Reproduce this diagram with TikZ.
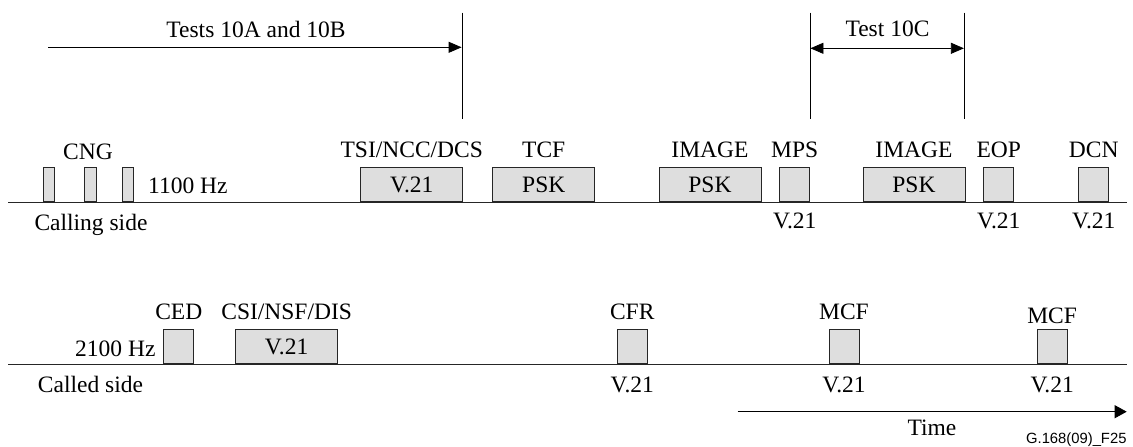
\documentclass[tikz,border=0pt]{standalone}
\usepackage{fontspec}
\setmainfont{Liberation Serif}
\newfontfamily\figsans{Liberation Sans}
\usetikzlibrary{arrows.meta}
\begin{document}
\begin{tikzpicture}[x=1pt,y=-1pt,
  every node/.style={inner sep=0pt, font=\fontsize{23.5}{27}\selectfont},
  sig/.style={draw=black!85, fill=black!13, line width=0.9pt, inner sep=0pt,
    anchor=south west, minimum height=34pt},
  wide/.style={sig, minimum width=102pt},
  narrow/.style={sig, minimum width=30pt},
  thin/.style={sig, minimum width=11.5pt},
  lbl/.style={anchor=base},
  axis/.style={line width=0.9pt, black!85},
  marker/.style={line width=0.8pt},
  tip/.style={-{Triangle[length=13pt,width=11pt]}, line width=0.8pt}
]
\useasboundingbox (0,0) rectangle (1133,447);

% ---------- Calling side ----------
\coordinate (cl0) at (8.3,202);
\coordinate (cl1) at (1126.7,202);
\draw[axis] (cl0) -- (cl1);

\node[thin] (cng1) at (42.7,202) {};
\node[thin] (cng2) at (84.3,202) {};
\node[thin] (cng3) at (121.8,202) {};
\node[lbl] (cngL) at (88,159) {CNG};
\node[anchor=base west] (hz1) at (148,193) {1100 Hz};
\node[anchor=base west] (calling) at (34.3,230) {Calling side};

\node[wide] (tsi) at (360.3,202) {V.21};
\node[wide] (tcf) at (492.3,202) {PSK};
\node[wide] (img1) at (658.5,202) {PSK};
\node[narrow] (mps) at (779.3,202) {};
\node[wide] (img2) at (862.5,202) {PSK};
\node[narrow] (eop) at (983.3,202) {};
\node[narrow] (dcn) at (1078.3,202) {};

\node[lbl, yshift=10pt] (tsiL) at (tsi.north) {TSI/NCC/DCS};
\node[lbl, yshift=10pt] (tcfL) at (tcf.north) {TCF};
\node[lbl, yshift=10pt] (img1L) at (img1.north) {IMAGE};
\node[lbl, yshift=10pt] (mpsL) at (mps.north) {MPS};
\node[lbl, yshift=10pt] (img2L) at (img2.north) {IMAGE};
\node[lbl, yshift=10pt] (eopL) at (eop.north) {EOP};
\node[lbl, yshift=10pt] (dcnL) at (dcn.north) {DCN};

\node[lbl, yshift=-26.8pt] (mpsV) at (mps.south) {V.21};
\node[lbl, yshift=-26.8pt] (eopV) at (eop.south) {V.21};
\node[lbl, yshift=-26.8pt] (dcnV) at (dcn.south) {V.21};

% ---------- Test markers ----------
\coordinate (ma) at (462,12.7);
\coordinate (mb) at (462,119);
\coordinate (mc) at (810,12.7);
\coordinate (md) at (810,119);
\coordinate (me) at (964.3,12.7);
\coordinate (mf) at (964.3,119);
\draw[marker] (ma) -- (mb);
\draw[marker] (mc) -- (md);
\draw[marker] (me) -- (mf);

\coordinate (ta0) at (48,47.3);
\coordinate (ta1) at (461.6,47.3);
\draw[tip] (ta0) -- (ta1);
\node[lbl] (testsAB) at (256,37.3) {Tests 10A and 10B};

\coordinate (tc0) at (810.4,48.3);
\coordinate (tc1) at (963.9,48.3);
\draw[tip, {Triangle[length=13pt,width=11pt]}-{Triangle[length=13pt,width=11pt]}] (tc0) -- (tc1);
\node[lbl] (testC) at (887.5,36.7) {Test 10C};

% ---------- Called side ----------
\coordinate (cd0) at (8.3,364);
\coordinate (cd1) at (1126.7,364);
\draw[axis] (cd0) -- (cd1);

\node[narrow] (ced) at (163.3,364) {};
\node[wide] (csi) at (235.2,364) {V.21};
\node[narrow] (cfr) at (616.8,364) {};
\node[narrow] (mcf1) at (828.5,364) {};
\node[narrow] (mcf2) at (1036.7,364) {};

\node[anchor=base east] (hz2) at (155.7,356.7) {2100 Hz};
\node[anchor=base west] (called) at (37.7,392.7) {Called side};

\node[lbl, yshift=10pt] (cedL) at (ced.north) {CED};
\node[lbl, yshift=10pt] (csiL) at (csi.north) {CSI/NSF/DIS};
\node[lbl, yshift=10pt] (cfrL) at (cfr.north) {CFR};
\node[lbl, yshift=10pt] (mcf1L) at (mcf1.north) {MCF};
\node[lbl, yshift=5.8pt] (mcf2L) at (mcf2.north) {MCF};

\node[lbl, yshift=-28.6pt] (cfrV) at (cfr.south) {V.21};
\node[lbl, yshift=-28.6pt] (mcf1V) at (mcf1.south) {V.21};
\node[lbl, yshift=-28.6pt] (mcf2V) at (mcf2.south) {V.21};

% ---------- Time ----------
\coordinate (tm0) at (737.7,411.7);
\coordinate (tm1) at (1126.7,411.7);
\draw[-{Triangle[length=12pt,width=13pt]}, line width=0.8pt] (tm0) -- (tm1);
\node[lbl] (time) at (932,435) {Time};
\node[anchor=base east, font=\figsans\fontsize{14.8}{17}\selectfont] (fig) at (1126.7,443.3) {G.168(09)\_F25};
\end{tikzpicture}
\end{document}
